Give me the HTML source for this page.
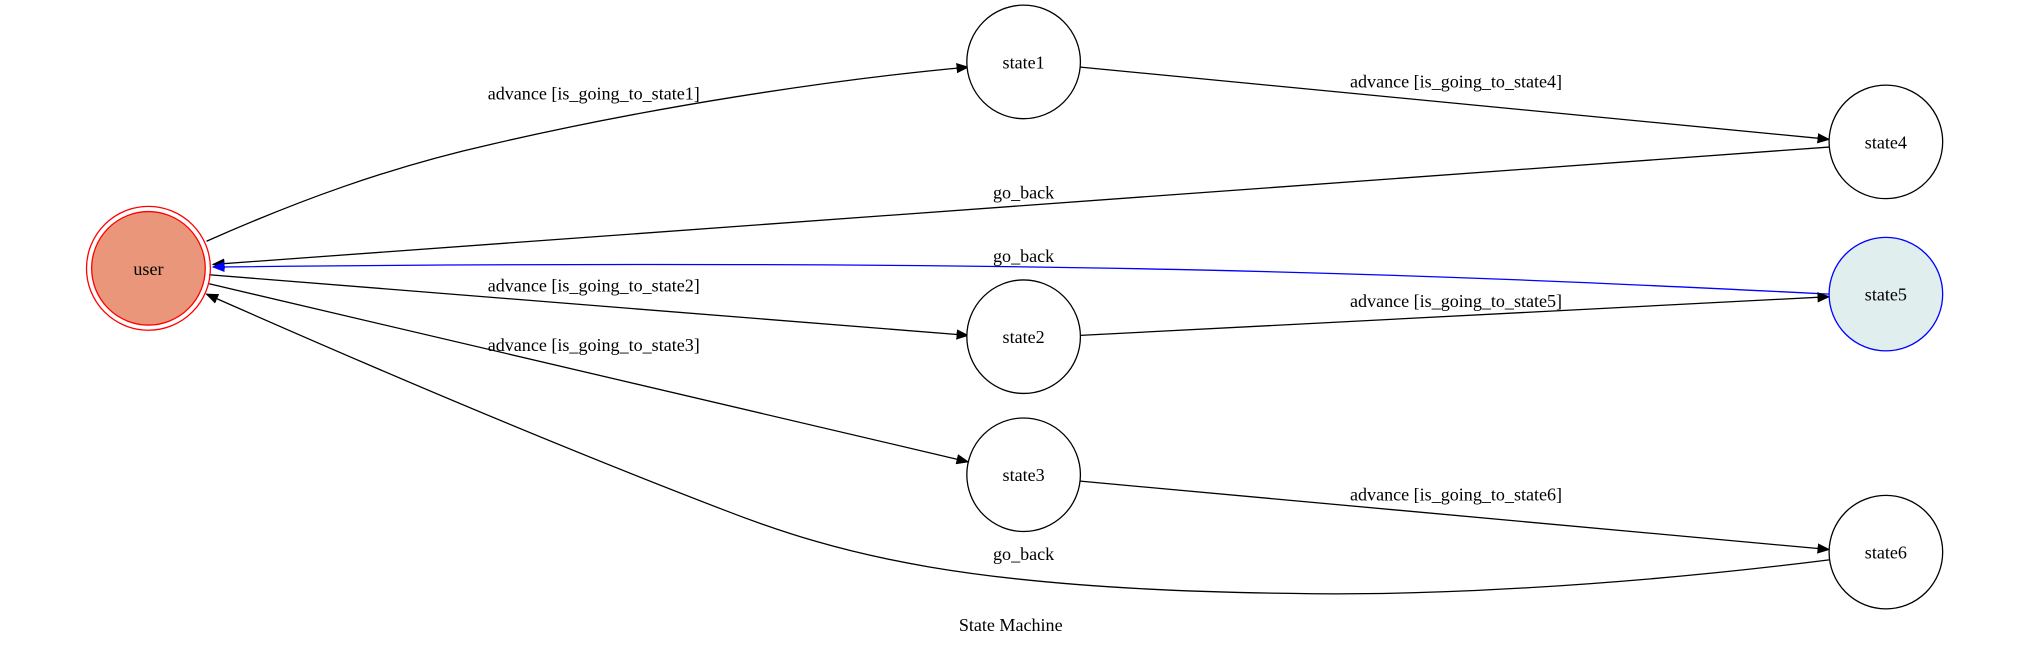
<!DOCTYPE html>
<html><head><style>html,body{margin:0;padding:0;background:#fff;width:2024px;height:645px;overflow:hidden}</style></head>
<body>
<svg width="2024" height="645" viewBox="0 0 1568 500" preserveAspectRatio="none" xmlns="http://www.w3.org/2000/svg" font-family="Liberation Serif, serif" font-size="14">
<defs>
<marker id="a" markerWidth="10" markerHeight="8" refX="9" refY="4" orient="auto" markerUnits="userSpaceOnUse"><path d="M0,0 L10,4 L0,8 z" fill="#000"/></marker>
<marker id="b" markerWidth="10" markerHeight="8" refX="9" refY="4" orient="auto" markerUnits="userSpaceOnUse"><path d="M0,0 L10,4 L0,8 z" fill="#00f"/></marker>
</defs>
<g fill="none" stroke="#000" stroke-width="1">
<path d="M160,187 C230,156 300,130 380,112 C500,84 640,62 750,52" marker-end="url(#a)"/>
<path d="M837,52 L1417,108" marker-end="url(#a)"/>
<path d="M1417,114 L165,205" marker-end="url(#a)"/>
<path d="M1417,228 C1100,212 800,200 165,207" stroke="#00f" marker-end="url(#b)"/>
<path d="M162,213 L750,260" marker-end="url(#a)"/>
<path d="M837,260 L1417,230" marker-end="url(#a)"/>
<path d="M162,220 L750,358" marker-end="url(#a)"/>
<path d="M837,373 L1417,426" marker-end="url(#a)"/>
<path d="M1417,434 C1250,455 1100,462 1000,460 C750,457 650,430 560,395 C430,345 300,290 160,228" marker-end="url(#a)"/>
</g>
<circle cx="115" cy="208" r="48" fill="none" stroke="#f00"/>
<circle cx="115" cy="208" r="44" fill="#e9967a" stroke="#f00"/>
<circle cx="793" cy="48" r="44" fill="#fff" stroke="#000"/>
<circle cx="1461" cy="110" r="44" fill="#fff" stroke="#000"/>
<circle cx="1461" cy="228" r="44" fill="#e0eeee" stroke="#00f"/>
<circle cx="793" cy="261" r="44" fill="#fff" stroke="#000"/>
<circle cx="793" cy="368" r="44" fill="#fff" stroke="#000"/>
<circle cx="1461" cy="428" r="44" fill="#fff" stroke="#000"/>
<g text-anchor="middle" fill="#000">
<text x="115" y="213">user</text>
<text x="793" y="53">state1</text>
<text x="1461" y="115">state4</text>
<text x="1461" y="233">state5</text>
<text x="793" y="266">state2</text>
<text x="793" y="373">state3</text>
<text x="1461" y="433">state6</text>
<text x="460" y="77">advance [is_going_to_state1]</text>
<text x="1128" y="68">advance [is_going_to_state4]</text>
<text x="793" y="154">go_back</text>
<text x="793" y="203">go_back</text>
<text x="460" y="226">advance [is_going_to_state2]</text>
<text x="1128" y="238">advance [is_going_to_state5]</text>
<text x="460" y="272">advance [is_going_to_state3]</text>
<text x="1128" y="388">advance [is_going_to_state6]</text>
<text x="793" y="434">go_back</text>
<text x="783" y="489">State Machine</text>
</g>
</svg>
</body></html>
